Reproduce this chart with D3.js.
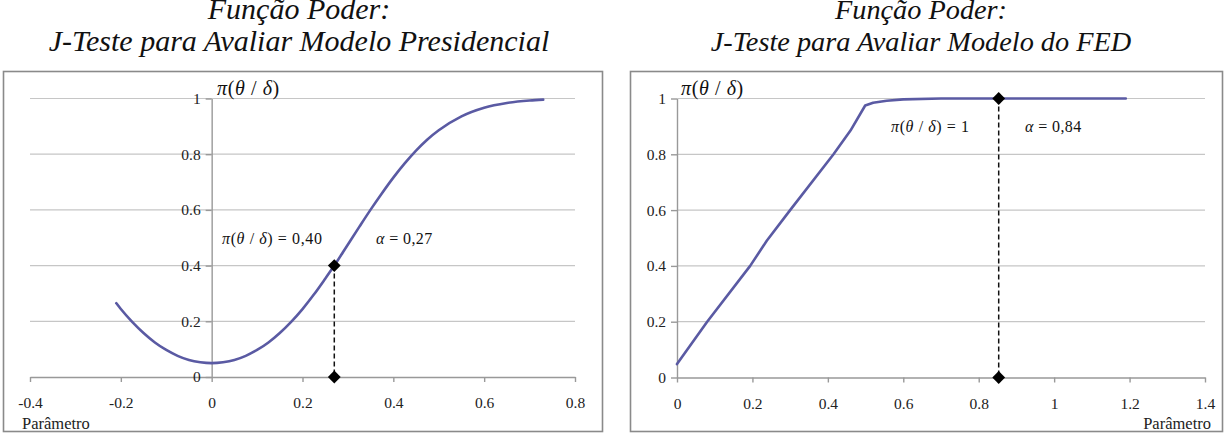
<!DOCTYPE html>
<html><head><meta charset="utf-8">
<script src="https://cdn.jsdelivr.net/npm/d3@7"></script>
<style>body{margin:0}</style></head>
<body>
<svg id="c" width="1226" height="434"></svg>
<script>
// ---- data ----
const titleLeft = ["Função Poder:", "J-Teste para Avaliar Modelo Presidencial"];
const titleRight = ["Função Poder:", "J-Teste para Avaliar Modelo do FED"];
const xLabel = "Parâmetro";

const leftTicksX = [-0.4, -0.2, 0, 0.2, 0.4, 0.6, 0.8];
const rightTicksX = [0, 0.2, 0.4, 0.6, 0.8, 1, 1.2, 1.4];
const ticksY = [0, 0.2, 0.4, 0.6, 0.8, 1];

const leftParam = [-0.21, -0.2, -0.175, -0.15, -0.125, -0.1, -0.075, -0.05, -0.025, 0, 0.025, 0.05, 0.075, 0.1, 0.125, 0.15, 0.175, 0.2, 0.225, 0.25, 0.27, 0.3, 0.325, 0.35, 0.375, 0.4, 0.425, 0.45, 0.475, 0.5, 0.55, 0.6, 0.65, 0.7, 0.73];
const leftPower = [0.265, 0.244, 0.198, 0.158, 0.124, 0.097, 0.076, 0.061, 0.053, 0.05, 0.053, 0.061, 0.076, 0.097, 0.124, 0.158, 0.198, 0.244, 0.296, 0.353, 0.40, 0.476, 0.539, 0.601, 0.660, 0.716, 0.767, 0.813, 0.853, 0.886, 0.936, 0.967, 0.984, 0.993, 0.996];

const rightParam = [0, 0.08, 0.194, 0.238, 0.3, 0.415, 0.46, 0.499, 0.52, 0.556, 0.6, 0.7, 0.85, 1.0, 1.19];
const rightPower = [0.048, 0.2, 0.4, 0.49, 0.6, 0.8, 0.885, 0.975, 0.985, 0.992, 0.997, 1, 1, 1, 1];

const leftMarkX = 0.27, leftMarkY = [0.40, 0];
const rightMarkX = 0.853, rightMarkY = [1, 0];

const leftNotes = ["0,40", "0,27"];
const rightNotes = ["1", "0,84"];

// ---- drawing ----
const FONT = "Liberation Serif";
const svg = d3.select("#c").attr("font-family", FONT);
const lineColor = "#5a5aa3";
const gridColor = "#c6c6c6";
const axisColor = "#999999";

function mkText(parent) {
  return parent.append("text").attr("font-family", FONT);
}

function titles(lines, cx, size, y0) {
  lines.forEach((s, i) => {
    mkText(svg).attr("x", cx).attr("y", y0 + i * 32).attr("text-anchor", "middle")
      .attr("font-style", "italic").attr("font-size", size).attr("fill", "#111").text(s);
  });
}
titles(titleLeft, 299, 30, 19);
titles(titleRight, 921, 28.3, 18.5);

// panel borders
svg.append("rect").attr("x", 3.5).attr("y", 71.5).attr("width", 599).attr("height", 360)
  .attr("fill", "none").attr("stroke", "#8a8a8a").attr("stroke-width", 1.6);
svg.append("rect").attr("x", 630.5).attr("y", 71.5).attr("width", 592).attr("height", 360)
  .attr("fill", "none").attr("stroke", "#8a8a8a").attr("stroke-width", 1.6);

const fmt = d => String(+(+d).toFixed(1));

function piLabel(g, x, y, size, suffix, spacing) {
  const t = mkText(g).attr("x", x).attr("y", y).attr("font-size", size).attr("fill", "#111")
    .attr("letter-spacing", spacing || 0);
  t.append("tspan").attr("font-style", "italic").text("π");
  t.append("tspan").text("(");
  t.append("tspan").attr("font-style", "italic").text("θ");
  t.append("tspan").text(" / ");
  t.append("tspan").attr("font-style", "italic").text("δ");
  t.append("tspan").text(")");
  if (suffix !== undefined) t.append("tspan").text(" = " + suffix);
  return t;
}
function alphaLabel(g, x, y, size, val, spacing) {
  const t = mkText(g).attr("x", x).attr("y", y).attr("font-size", size).attr("fill", "#111")
    .attr("letter-spacing", spacing || 0);
  t.append("tspan").attr("font-style", "italic").text("α");
  t.append("tspan").text(" = " + val);
}

function panel(opt) {
  const g = svg.append("g");
  const x = d3.scaleLinear().domain(opt.xDomain).range(opt.xRange);
  const y = d3.scaleLinear().domain([0, 1]).range(opt.yRange);

  // grid
  g.append("g").selectAll("line").data(ticksY.filter(d => d > 0)).join("line")
    .attr("x1", opt.xRange[0]).attr("x2", opt.xRange[1])
    .attr("y1", d => y(d)).attr("y2", d => y(d))
    .attr("stroke", gridColor).attr("stroke-width", 1.2);

  // x axis
  const xa = g.append("g").attr("transform", `translate(0,${y(0)})`)
    .call(d3.axisBottom(x).tickValues(opt.xTicks).tickFormat(fmt).tickSize(5).tickSizeOuter(0).tickPadding(15));
  // y axis
  const ya = g.append("g").attr("transform", `translate(${x(0)},0)`)
    .call(d3.axisLeft(y).tickValues(ticksY).tickFormat(fmt).tickSize(6).tickSizeOuter(0).tickPadding(5));
  [xa, ya].forEach(a => {
    a.attr("font-family", FONT).attr("font-size", 15.5);
    a.select(".domain").attr("stroke", axisColor).attr("stroke-width", 1.4);
    a.selectAll(".tick line").attr("stroke", axisColor).attr("stroke-width", 1.4);
    a.selectAll(".tick text").attr("fill", "#222");
  });

  // curve
  const pts = opt.px.map((d, i) => [d, opt.py[i]]);
  g.append("path").datum(pts)
    .attr("d", d3.line().x(d => x(d[0])).y(d => y(d[1])).curve(opt.curve))
    .attr("fill", "none").attr("stroke", lineColor).attr("stroke-width", 2.6)
    .attr("stroke-linejoin", "round").attr("stroke-linecap", "round");

  // dashed drop line and markers
  g.append("line").attr("x1", x(opt.markX)).attr("x2", x(opt.markX))
    .attr("y1", y(opt.markY[0])).attr("y2", y(opt.markY[1]))
    .attr("stroke", "#111").attr("stroke-width", 1.5).attr("stroke-dasharray", "5,3");
  g.selectAll(".mk").data(opt.markY).join("path").attr("class", "mk")
    .attr("d", d3.symbol(d3.symbolSquare, 82)())
    .attr("transform", d => `translate(${x(opt.markX)},${y(d)}) rotate(45)`)
    .attr("fill", "#000");

  // axis title
  piLabel(g, opt.piPos[0], opt.piPos[1], 20, undefined, 0.6);
  // x label
  mkText(g).attr("x", opt.xLabPos[0]).attr("y", opt.xLabPos[1])
    .attr("text-anchor", opt.xLabAnchor).attr("font-size", 16.5).attr("fill", "#222").text(xLabel);
  // notes
  piLabel(g, opt.note1[0], opt.note1[1], 16, opt.notes[0], 0.6);
  alphaLabel(g, opt.note2[0], opt.note2[1], 16, opt.notes[1], 0.4);
}

panel({
  xDomain: [-0.4, 0.8], xRange: [30, 575], yRange: [377, 98.5], xTicks: leftTicksX,
  px: leftParam, py: leftPower, curve: d3.curveMonotoneX,
  markX: leftMarkX, markY: leftMarkY,
  piPos: [217, 95], xLabPos: [22, 429], xLabAnchor: "start",
  note1: [222, 243.5], note2: [376, 243.5], notes: leftNotes
});
panel({
  xDomain: [0, 1.4], xRange: [677, 1205], yRange: [377.5, 98.5], xTicks: rightTicksX,
  px: rightParam, py: rightPower, curve: d3.curveLinear,
  markX: rightMarkX, markY: rightMarkY,
  piPos: [681, 95], xLabPos: [1211, 429], xLabAnchor: "end",
  note1: [891, 132], note2: [1025, 132], notes: rightNotes
});
</script>
</body></html>
